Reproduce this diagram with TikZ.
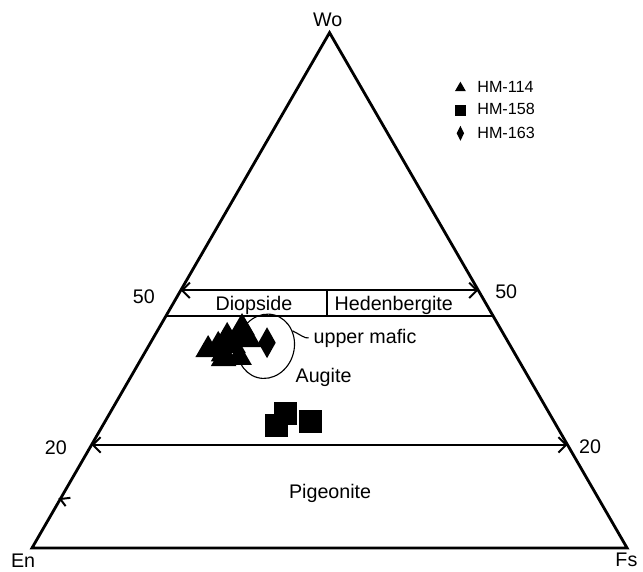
\documentclass[tikz,border=0pt]{standalone}
\usepackage{fontspec}
\setmainfont{Liberation Sans}
\usetikzlibrary{arrows.meta}
\usetikzlibrary{shapes.geometric}
\usetikzlibrary{positioning}
\tikzset{barb/.style = {line width=1.4pt,
                        {Straight Barb[length=5.5pt, width=11pt]}-{Straight Barb[length=5.5pt, width=11pt]}}}
\tikzset{lbl/.style = {font=\fontsize{14}{16}\selectfont}}
\tikzset{keylbl/.style = {font=\fontsize{11.5}{13}\selectfont, anchor = west, inner sep = 0}}
\tikzset{trimark/.style = {fill, regular polygon, regular polygon sides = 3, inner sep = 0, minimum size = #1}}
\tikzset{sqmark/.style = {fill, rectangle, inner sep = 0, minimum size = #1}}
\tikzset{diamark/.style = {fill, diamond, inner sep = 0, aspect = 0.5, minimum width = #1, minimum height = 2*#1}}

\begin{document}
\begin{tikzpicture}[scale=1.4875]
    \useasboundingbox (-0.538, -0.387) rectangle (10.269, 9.210);

    \coordinate (En) at (0, 0);
    \coordinate (Fs) at (10, 0);
    \coordinate (Wo) at (5, 8.660);
    \draw [line width = 2pt, line join = miter] (En) -- (Fs) -- (Wo) -- cycle;

    % Wo = 50, 45, 20
    \coordinate (a50) at (2.5, 4.330);
    \coordinate (b50) at (7.5, 4.330);
    \coordinate (a45) at (2.25, 3.897);
    \coordinate (b45) at (7.75, 3.897);
    \coordinate (a20) at (1, 1.732);
    \coordinate (b20) at (9, 1.732);
    \coordinate (m45) at (4.95, 3.897);
    \coordinate (m50) at (4.95, 4.330);
    \coordinate (t10) at (0.475, 0.823);
    \draw [barb] (a50) -- (b50);
    \draw [line width = 1.4pt] (a45) -- (b45);
    \draw [line width = 1.4pt] (m45) -- (m50);
    \draw [barb] (a20) -- (b20);
    \draw [line width = 1.4pt] (t10) ++(0.17, 0.02) -- (t10) -- ++(0.09, -0.12);

    \node [lbl] (WoL) at (4.97, 8.87) {Wo};
    \node [lbl] (EnL) at (-0.15, -0.22) {En};
    \node [lbl] (FsL) at (9.99, -0.20) {Fs};
    \node [lbl] (n50l) at (1.88, 4.22) {50};
    \node [lbl] (n50r) at (7.97, 4.31) {50};
    \node [lbl] (n20l) at (0.40, 1.69) {20};
    \node [lbl] (n20r) at (9.38, 1.70) {20};
    \node [lbl] (diop) at (3.73, 4.07) {Diopside};
    \node [lbl] (hed) at (6.08, 4.07) {Hedenbergite};
    \node [lbl] (aug) at (4.90, 2.86) {Augite};
    \node [lbl] (pig) at (5.01, 0.92) {Pigeonite};

    % HM-114
    \foreach \x/\y [count=\i] in {2.96/3.33, 3.13/3.40, 3.28/3.55, 3.38/3.40, 3.22/3.26,
                                  3.53/3.70, 3.64/3.50, 3.22/3.18, 3.48/3.20, 3.45/3.55}
        \node [trimark = 0.74cm] (tri\i) at (\x, \y) {};
    % HM-158
    \foreach \x/\y [count=\i] in {4.26/2.26, 4.11/2.06, 4.68/2.13}
        \node [sqmark = 0.575cm] (sq\i) at (\x, \y) {};
    % HM-163
    \node [fill, diamond, inner sep = 0, minimum width = 0.44cm, minimum height = 0.78cm] (dia) at (3.95, 3.45) {};

    \node [draw, ellipse, line width = 0.8pt, inner sep = 0,
           minimum width = 1.42cm, minimum height = 1.62cm, rotate = -15] (mafic) at (3.93, 3.39) {};
    \node [lbl, anchor = west] (maficL) at (4.65, 3.53) {upper mafic};
    \draw [line width = 0.8pt] (mafic.45) .. controls (4.52, 3.58) and (4.58, 3.52) .. (maficL.west);

    % key
    \node [trimark = 0.318cm] (k114) at (7.20, 7.73) {};
    \node [sqmark = 0.275cm] (k158) at (7.20, 7.36) {};
    \node [diamark = 0.19cm] (k163) at (7.20, 6.97) {};
    \node [keylbl] (k114L) at (7.48, 7.75) {HM-114};
    \node [keylbl] (k158L) at (7.48, 7.38) {HM-158};
    \node [keylbl] (k163L) at (7.48, 6.98) {HM-163};
\end{tikzpicture}
\end{document}
